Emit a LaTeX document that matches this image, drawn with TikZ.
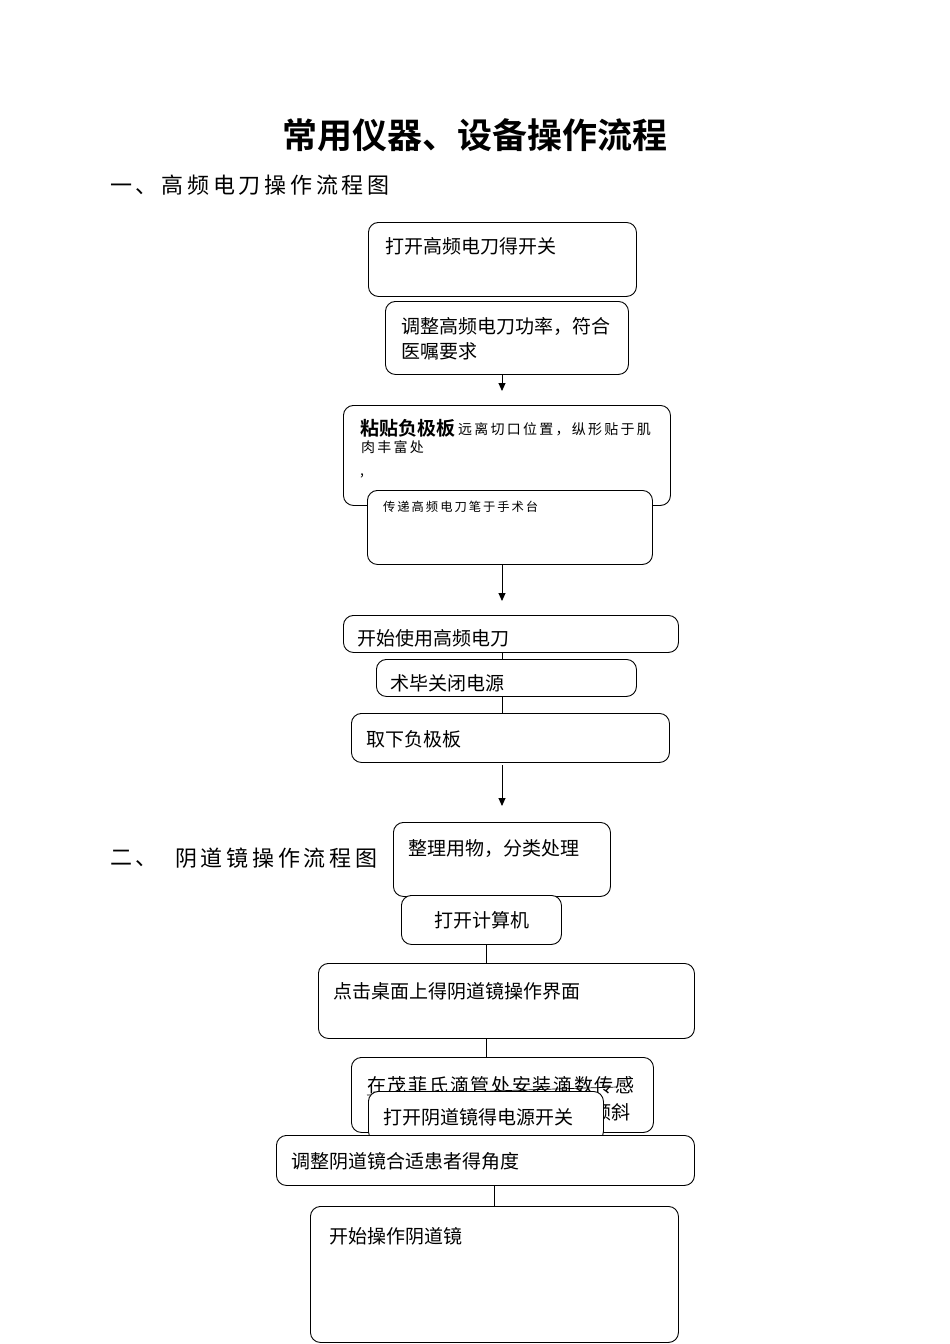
\documentclass[tikz,border=0pt]{standalone}
\usepackage{fontspec}
\usetikzlibrary{arrows.meta}
\newfontfamily\cjk{Noto Sans CJK SC}[BoldFont={Noto Sans CJK SC Bold}]
\newfontfamily\cjksp{Noto Sans CJK SC}[LetterSpace=16]
\newfontfamily\cjkmid{Noto Sans CJK SC}[LetterSpace=9]
\newfontfamily\cjkhd{Noto Sans CJK SC}[LetterSpace=17]
\begin{document}
\begin{tikzpicture}[x=1pt,y=-1pt,
  box/.style={draw=black,line width=0.9pt,rounded corners=10pt,fill=white,anchor=north west,inner sep=0pt},
  txt/.style={anchor=west,inner sep=0pt,font=\cjk\fontsize{19}{22}\selectfont},
  small/.style={anchor=west,inner sep=0pt,font=\cjksp\fontsize{14}{17}\selectfont},
  tiny/.style={anchor=west,inner sep=0pt,font=\cjksp\fontsize{12.3}{15}\selectfont},
  head/.style={anchor=west,inner sep=0pt,font=\cjkhd\fontsize{22}{26}\selectfont},
  conn/.style={line width=0.9pt},
  arr/.style={line width=0.9pt,-{Triangle[width=7pt,length=8pt]}}]
\useasboundingbox (0,0) rectangle (950,1344);

% title and headers
\node[inner sep=0pt,font=\cjk\bfseries\fontsize{35}{40}\selectfont] (title) at (475,135) {常用仪器、设备操作流程};
\node[head] (h1) at (110,185) {一、高频电刀操作流程图};
\node[head] (h2a) at (110,858) {二、};
\node[head] (h2) at (175,858) {阴道镜操作流程图};

% part 1
\node[box,minimum width=268pt,minimum height=74pt] (b1) at (368,222) {};
\node[txt] (b1t) at (385,246) {打开高频电刀得开关};

\node[box,minimum width=243pt,minimum height=73pt] (b2) at (385,301) {};
\node[txt] (b2t) at (401,326) {调整高频电刀功率，符合};
\node[txt] (b2u) at (401,351) {医嘱要求};

\coordinate (a1) at (502,391);
\draw[arr] (502,374) -- (a1);

\node[box,minimum width=327pt,minimum height=100pt] (b3) at (343,405) {};
\node[txt,font=\cjk\bfseries\fontsize{19}{22}\selectfont] (b3t) at (360,428) {粘贴负极板};
\node[small] (b3s) at (458,429) {远离切口位置，纵形贴于肌};
\node[small] (b3u) at (361,447) {肉丰富处};
\node[small] (b3c) at (360,476) {,};

\node[box,minimum width=285pt,minimum height=74pt] (b4) at (367,490) {};
\node[tiny] (b4t) at (383,507) {传递高频电刀笔于手术台};

\coordinate (a2) at (502,601);
\draw[arr] (b4.south -| a2) -- (a2);

\node[box,minimum width=335pt,minimum height=37pt] (b5) at (343,615) {};
\node[txt] (b5t) at (357,638) {开始使用高频电刀};

\node[box,minimum width=260pt,minimum height=37pt] (b6) at (376,659) {};
\node[txt] (b6t) at (390,683) {术毕关闭电源};
\draw[conn] (b5.south -| a2) -- (b6.north -| a2);

\node[box,minimum width=318pt,minimum height=49pt] (b7) at (351,713) {};
\node[txt] (b7t) at (366,739) {取下负极板};
\draw[conn] (b6.south -| a2) -- (b7.north -| a2);

\coordinate (a3s) at (502,765);
\coordinate (a3) at (502,806);
\draw[arr] (a3s) -- (a3);

% part 2
\node[box,minimum width=217pt,minimum height=74pt] (b8) at (393,822) {};
\node[txt] (b8t) at (408,849) {整理用物，分类处理};

\node[box,minimum width=160pt,minimum height=49pt] (b9) at (401,895) {};
\node[txt] (b9t) at (434,920) {打开计算机};

\node[box,minimum width=376pt,minimum height=75pt] (b10) at (318,963) {};
\node[txt] (b10t) at (333,991) {点击桌面上得阴道镜操作界面};
\coordinate (x2) at (486,0);
\draw[conn] (b9.south -| x2) -- (b10.north -| x2);

\node[box,minimum width=302pt,minimum height=75pt] (b11) at (351,1057) {};
\node[txt,font=\cjkmid\fontsize{19}{22}\selectfont,anchor=west] (b11t) at (367,1085) {在茂菲氏滴管处安装滴数传感};
\draw[line width=0.7pt] (b11t.south west) ++(0,1) coordinate (ul1) -- (617,1087) coordinate (ul2);
\node[txt] (b11u) at (592,1112) {倾斜};
\draw[conn] (b10.south -| x2) -- (b11.north -| x2);

\node[box,minimum width=235pt,minimum height=50pt] (b12) at (368,1091) {};
\node[txt] (b12t) at (383,1117) {打开阴道镜得电源开关};

\node[box,minimum width=418pt,minimum height=50pt] (b13) at (276,1135) {};
\node[txt] (b13t) at (291,1161) {调整阴道镜合适患者得角度};

\node[box,minimum width=368pt,minimum height=136pt] (b14) at (310,1206) {};
\node[txt] (b14t) at (329,1236) {开始操作阴道镜};
\coordinate (x3) at (494,0);
\draw[conn] (b13.south -| x3) -- (b14.north -| x3);
\end{tikzpicture}
\end{document}
